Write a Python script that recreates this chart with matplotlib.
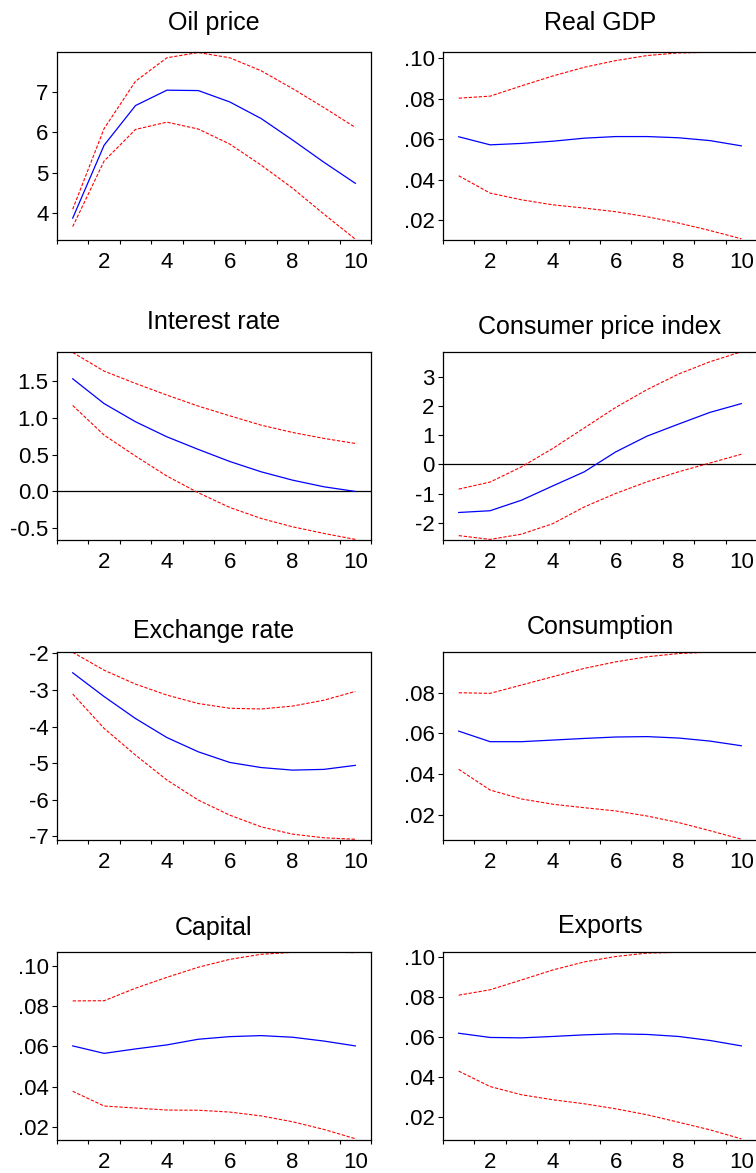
import matplotlib
matplotlib.use("Agg")
import matplotlib.pyplot as plt
from matplotlib.ticker import FixedLocator, FuncFormatter

plt.rcParams['font.family'] = ['Liberation Sans', 'DejaVu Sans']

periods = list(range(1, 11))

titles = ["Oil price", "Real GDP", "Interest rate", "Consumer price index",
          "Exchange rate", "Consumption", "Capital", "Exports"]

# impulse responses (blue) and +/- 2 s.e. bands (red)
oil_mid = [3.88, 5.68, 6.66, 7.04, 7.03, 6.75, 6.34, 5.81, 5.26, 4.74]
oil_hi = [4.10, 6.09, 7.26, 7.84, 7.97, 7.84, 7.52, 7.08, 6.61, 6.12]
oil_lo = [3.67, 5.29, 6.07, 6.25, 6.08, 5.71, 5.19, 4.62, 3.98, 3.36]

gdp_mid = [0.0612, 0.0572, 0.0579, 0.0590, 0.0605, 0.0613, 0.0613, 0.0607, 0.0593, 0.0567]
gdp_hi = [0.0803, 0.0813, 0.0864, 0.0913, 0.0956, 0.0989, 0.1014, 0.1027, 0.1030, 0.1029]
gdp_lo = [0.0419, 0.0333, 0.0300, 0.0275, 0.0259, 0.0241, 0.0216, 0.0185, 0.0148, 0.0107]

rate_mid = [1.526, 1.19, 0.944, 0.74, 0.569, 0.406, 0.266, 0.153, 0.063, 0.0]
rate_hi = [1.883, 1.63, 1.463, 1.305, 1.156, 1.025, 0.898, 0.799, 0.718, 0.650]
rate_lo = [1.165, 0.763, 0.479, 0.208, -0.018, -0.217, -0.366, -0.479, -0.569, -0.650]

cpi_mid = [-1.64, -1.58, -1.22, -0.73, -0.25, 0.43, 0.97, 1.38, 1.78, 2.08]
cpi_hi = [-0.84, -0.60, -0.08, 0.55, 1.25, 1.95, 2.56, 3.09, 3.51, 3.85]
cpi_lo = [-2.43, -2.56, -2.38, -2.02, -1.45, -0.99, -0.59, -0.25, 0.05, 0.35]

fx_mid = [-2.53, -3.18, -3.78, -4.30, -4.69, -4.98, -5.12, -5.19, -5.17, -5.06]
fx_hi = [-1.97, -2.46, -2.84, -3.14, -3.37, -3.50, -3.52, -3.44, -3.28, -3.04]
fx_lo = [-3.11, -4.05, -4.78, -5.46, -6.01, -6.42, -6.74, -6.94, -7.04, -7.08]

cons_mid = [0.0611, 0.0559, 0.0559, 0.0567, 0.0575, 0.0582, 0.0584, 0.0577, 0.0562, 0.0539]
cons_hi = [0.0800, 0.0797, 0.0838, 0.0879, 0.0920, 0.0952, 0.0977, 0.0993, 0.1000, 0.1000]
cons_lo = [0.0423, 0.0321, 0.0277, 0.0251, 0.0234, 0.0218, 0.0193, 0.0161, 0.0121, 0.0079]

cap_mid = [0.0602, 0.0565, 0.0587, 0.0607, 0.0635, 0.0648, 0.0653, 0.0645, 0.0626, 0.0602]
cap_hi = [0.0825, 0.0826, 0.0888, 0.0942, 0.0992, 0.1031, 0.1056, 0.1066, 0.1068, 0.1064]
cap_lo = [0.0377, 0.0304, 0.0294, 0.0284, 0.0283, 0.0274, 0.0255, 0.0226, 0.0188, 0.0142]

exp_mid = [0.0618, 0.0597, 0.0595, 0.0602, 0.0610, 0.0615, 0.0612, 0.0602, 0.0582, 0.0555]
exp_hi = [0.0808, 0.0835, 0.0884, 0.0934, 0.0974, 0.1001, 0.1018, 0.1022, 0.1024, 0.1022]
exp_lo = [0.0429, 0.0352, 0.0311, 0.0286, 0.0266, 0.0241, 0.0211, 0.0174, 0.0136, 0.0091]

mids = [oil_mid, gdp_mid, rate_mid, cpi_mid, fx_mid, cons_mid, cap_mid, exp_mid]
his = [oil_hi, gdp_hi, rate_hi, cpi_hi, fx_hi, cons_hi, cap_hi, exp_hi]
los = [oil_lo, gdp_lo, rate_lo, cpi_lo, fx_lo, cons_lo, cap_lo, exp_lo]

ylims = [(3.34, 7.99), (0.0101, 0.1033), (-0.658, 1.893), (-2.58, 3.854),
         (-7.10, -1.954), (0.0075, 0.1002), (0.01355, 0.1069), (0.00852, 0.1025)]
yticks = [[4, 5, 6, 7], [.02, .04, .06, .08, .10], [-0.5, 0.0, 0.5, 1.0, 1.5],
          [-2, -1, 0, 1, 2, 3], [-7, -6, -5, -4, -3, -2], [.02, .04, .06, .08],
          [.02, .04, .06, .08, .10], [.02, .04, .06, .08, .10]]
yfmt = ["int", "dec2", "dec1", "int", "int", "dec2", "dec2", "dec2"]
zero_line = [False, False, True, True, False, False, False, False]
# title baseline above axes top, pixels
title_off = [22, 22, 23, 18, 14, 18, 17, 19]


def fmt_label(kind):
    def f(v, pos):
        if kind == "int":
            return "%d" % round(v)
        if kind == "dec1":
            return "%.1f" % v
        return ("%.2f" % v).replace("0.", ".", 1)
    return FuncFormatter(f)


W, H = 756, 1173
fig = plt.figure(figsize=(W / 100, H / 100), dpi=100)

lefts = [57, 443]
tops = [51.7, 351.7, 651.7, 951.7]
aw, ah = 314, 188.3

for i in range(8):
    r, c = divmod(i, 2)
    ax = fig.add_axes([lefts[c] / W, 1 - (tops[r] + ah) / H, aw / W, ah / H])
    if zero_line[i]:
        ax.axhline(0, color="black", lw=0.9)
    ax.plot(periods, his[i], color="red", lw=0.8, ls=(0, (3, 1.5)))
    ax.plot(periods, los[i], color="red", lw=0.8, ls=(0, (3, 1.5)))
    ax.plot(periods, mids[i], color="blue", lw=0.9)
    ax.set_xlim(0.5, 10.5)
    ax.set_ylim(*ylims[i])

    ax.xaxis.set_major_locator(FixedLocator([2, 4, 6, 8, 10]))
    ax.xaxis.set_minor_locator(FixedLocator([k + 0.5 for k in range(11)]))
    ax.tick_params(axis="x", which="major", length=0, pad=9, labelsize=16)
    ax.tick_params(axis="x", which="minor", length=3.2, width=0.8, direction="out")
    ax.yaxis.set_major_locator(FixedLocator(yticks[i]))
    ax.yaxis.set_major_formatter(fmt_label(yfmt[i]))
    ax.tick_params(axis="y", length=3.6, width=0.8, pad=2.5, labelsize=16)
    for s in ax.spines.values():
        s.set_linewidth(0.9)

    ax.annotate(titles[i], xy=(0.5, 1), xycoords="axes fraction",
                xytext=(0, title_off[i] * 0.72), textcoords="offset points",
                ha="center", va="baseline", fontsize=18)

fig.savefig("out.png", dpi=100)
